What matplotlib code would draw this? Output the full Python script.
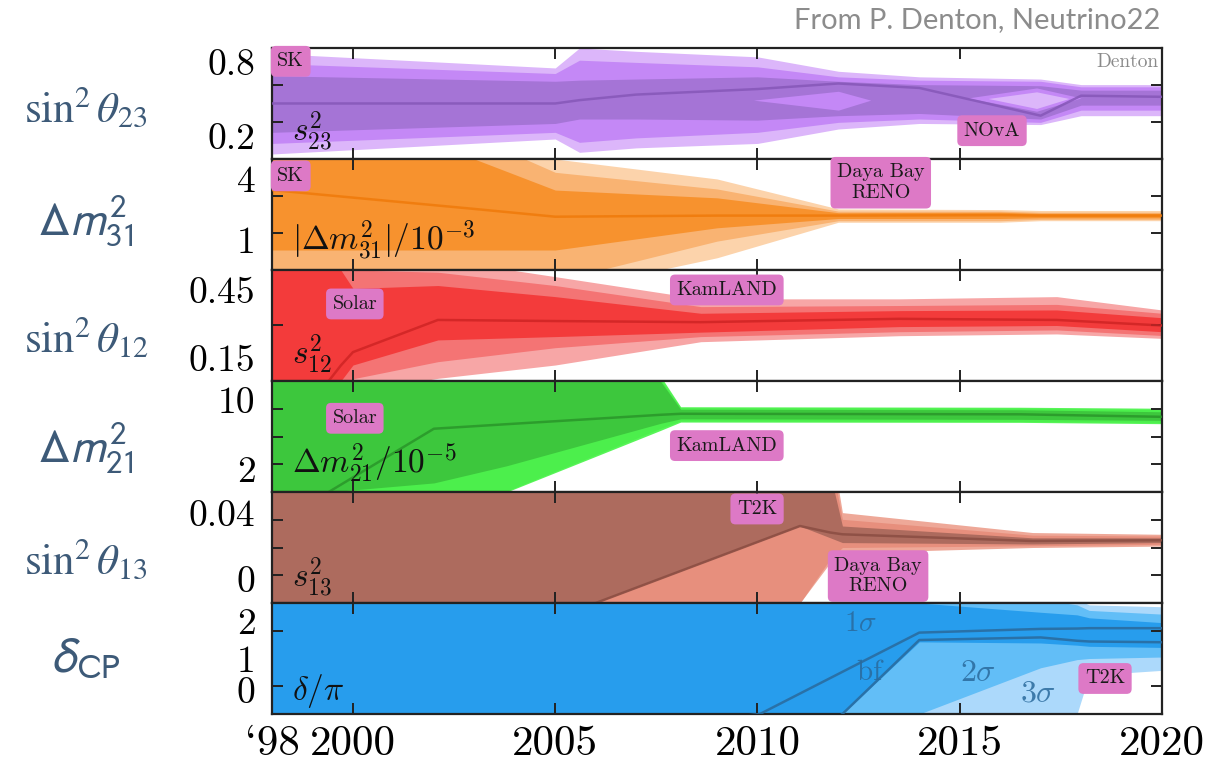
import numpy as np
import matplotlib.pyplot as plt
from matplotlib.ticker import FixedLocator

plt.rcParams['mathtext.fontset'] = 'cm'

# ---- sin^2 theta_23 ----
yr_23 = [1998, 2005, 2005.6, 2007, 2010, 2012, 2014, 2017, 2018, 2020]
hi3_23 = [0.95, 0.82, 1.00, 0.97, 0.92, 0.79, 0.74, 0.72, 0.67, 0.67]
hi2_23 = [0.86, 0.77, 0.89, 0.87, 0.83, 0.74, 0.71, 0.70, 0.65, 0.65]
hi1_23 = [0.75, 0.70, 0.71, 0.72, 0.74, 0.70, 0.67, 0.66, 0.62, 0.62]
bf_23 = [0.50, 0.50, 0.53, 0.58, 0.63, 0.68, 0.64, 0.39, 0.57, 0.56]
lo1_23 = [0.24, 0.32, 0.36, 0.36, 0.35, 0.39, 0.41, 0.36, 0.485, 0.485]
lo2_23 = [0.14, 0.24, 0.15, 0.19, 0.24, 0.33, 0.36, 0.33, 0.44, 0.44]
lo3_23 = [0.045, 0.18, 0.06, 0.10, 0.14, 0.27, 0.32, 0.31, 0.39, 0.39]
# octant holes
hole1_yr = [2009.9, 2012.0, 2012.8]
hole1_lo = [0.53, 0.44, 0.53]
hole1_hi = [0.53, 0.61, 0.53]
hole2_yr = [2015.2, 2016.9, 2018.0]
hole2_lo = [0.55, 0.43, 0.55]
hole2_hi = [0.55, 0.64, 0.55]
hole3_yr = [2015.7, 2016.9, 2017.7]
hole3_lo = [0.545, 0.455, 0.545]
hole3_hi = [0.545, 0.605, 0.545]

# ---- |dm^2_31| / 1e-3 ----
yr_31 = [1998, 2003, 2005, 2009, 2012, 2016, 2017, 2020]
hi3_31 = [7.0, 7.0, 5.0, 4.1, 2.75, 2.72, 2.68, 2.68]
hi2_31 = [7.0, 6.0, 4.4, 3.65, 2.65, 2.65, 2.6, 2.6]
hi1_31 = [6.0, 5.0, 3.6, 3.25, 2.58, 2.6, 2.55, 2.55]
bf_31 = [3.6, 2.75, 2.4, 2.45, 2.45, 2.47, 2.45, 2.45]
lo1_31 = [0.9, 0.9, 0.9, 1.9, 2.32, 2.32, 2.35, 2.35]
lo2_31 = [-1.0, -1.0, -0.5, 1.3, 2.22, 2.22, 2.28, 2.28]
lo3_31 = [-1.0, -1.0, -1.0, 0.55, 2.15, 2.15, 2.22, 2.22]

# ---- sin^2 theta_12 ----
yr_12 = [1998, 1999.4, 1999.7, 2000, 2002.1, 2005, 2008.6, 2013.5, 2017.4, 2020]
hi3_12 = [0.7, 0.7, 0.7, 0.6, 0.6, 0.52, 0.42, 0.42, 0.43, 0.37]
hi2_12 = [0.7, 0.7, 0.7, 0.55, 0.54, 0.48, 0.385, 0.39, 0.395, 0.355]
hi1_12 = [0.7, 0.7, 0.55, 0.467, 0.48, 0.43, 0.355, 0.367, 0.37, 0.335]
bf_12 = [-0.2, 0.05, 0.12, 0.18, 0.325, 0.32, 0.315, 0.33, 0.325, 0.30]
lo1_12 = [0.0, 0.0, 0.05, 0.122, 0.235, 0.25, 0.27, 0.295, 0.30, 0.272]
lo2_12 = [0.0, 0.0, 0.0, 0.06, 0.137, 0.2, 0.25, 0.272, 0.28, 0.255]
lo3_12 = [0.0, 0.0, 0.0, 0.0, 0.062, 0.122, 0.227, 0.254, 0.262, 0.242]

# ---- dm^2_21 / 1e-5 ----
yr_21 = [1998, 1999.4, 2002, 2003.8, 2007.6, 2008.1, 2016.5, 2020]
hi3_21 = [14, 14, 14, 14, 11.5, 8.45, 8.4, 8.3]
hi2_21 = [14, 14, 14, 14, 11.2, 8.35, 8.3, 8.15]
hi1_21 = [14, 14, 14, 14, 11.0, 8.2, 8.15, 7.95]
bf_21 = [-2.0, 0.0, 6.27, 6.72, 7.65, 7.75, 7.7, 7.45]
lo1_21 = [-1.0, 0.0, 0.9, 2.6, 6.8, 7.25, 7.2, 7.1]
lo2_21 = [-1.0, -1.0, -0.5, 0.1, 6.3, 7.05, 7.0, 6.9]
lo3_21 = [-1.0, -1.0, -1.0, 0.0, 6.1, 6.93, 6.9, 6.77]

# ---- sin^2 theta_13 ----
yr_13 = [1998, 2006.0, 2011.05, 2011.8, 2012.1, 2016.8, 2020]
hi3_13 = [0.08, 0.08, 0.08, 0.08, 0.0383, 0.027, 0.026]
hi2_13 = [0.08, 0.08, 0.08, 0.07, 0.0345, 0.0255, 0.025]
hi1_13 = [0.08, 0.08, 0.08, 0.06, 0.0307, 0.024, 0.024]
bf_13 = [-0.04, -0.013, 0.0307, 0.027, 0.026, 0.0222, 0.0226]
lo1_13 = [-0.04, -0.013, 0.0307, 0.024, 0.0213, 0.0205, 0.0213]
lo2_13 = [-0.05, -0.05, -0.013, 0.012, 0.0185, 0.0195, 0.0203]
lo3_13 = [-0.05, -0.05, -0.013, 0.010, 0.0155, 0.0185, 0.0193]

# ---- delta_CP / pi ----
yr_cp = [1998, 2010.06, 2012.1, 2014.0, 2017.0, 2017.9, 2018.2, 2020]
hi3_cp = [3, 3, 3, 3, 3, 2.6, 2.45, 2.4]
hi2_cp = [3, 3, 3, 3, 2.6, 2.45, 2.3, 2.2]
hi1_cp = [3, 3, 3, 2.5, 2.25, 2.18, 2.1, 1.97]
bf_cp = [-2, -0.5, 0.64, 1.7, 1.8, 1.81, 1.82, 1.82]
bf2_cp = [-3, -2, -0.5, 1.5, 1.57, 1.48, 1.46, 1.44]
lo1_cp = [-3, -3, -0.5, 1.45, 1.42, 1.36, 1.33, 1.3]
lo2_cp = [-3, -3, -3, -0.5, 0.75, 0.97, 1.0, 1.04]
lo3_cp = [-3, -3, -3, -3, -3, -0.5, 0.55, 0.68]

year_ticks = [1998, 2000, 2005, 2010, 2015, 2020]
year_labels = ['`98', '2000', '2005', '2010', '2015', '2020']

pink = '#dd79c6'
navy = '#3d5a78'

panels = [
    dict(yr=yr_23, bands=(lo3_23, lo2_23, lo1_23, hi1_23, hi2_23, hi3_23), bf=bf_23,
         ylim=(0, 1), cols=('#dcb6fa', '#c488f6', '#a574d6'), line='#8657b8',
         minor=[1 / 3, 2 / 3], lab_pos=[0.873, 0.209], labs=['0.8', '0.2'],
         name=r'$s^2_{23}$', name_y=0.24,
         side=r'$\sin^2\theta_{23}$', side_y=0.45, side_font='stix', side_fs=31),
    dict(yr=yr_31, bands=(lo3_31, lo2_31, lo1_31, hi1_31, hi2_31, hi3_31), bf=bf_31,
         ylim=(0, 5), cols=('#fcd3ab', '#f9b372', '#f7922e'), line='#ef7a0a',
         minor=[1 / 3, 2 / 3], lab_pos=[0.82, 0.268], labs=['4', '1'],
         name=r'$|\Delta m^2_{31}|/10^{-3}$', name_y=0.27,
         side=r'$\Delta m^2_{31}$', side_y=0.45, side_font='stixsans', side_fs=34),
    dict(yr=yr_12, bands=(lo3_12, lo2_12, lo1_12, hi1_12, hi2_12, hi3_12), bf=bf_12,
         ylim=(0.05, 0.55), cols=('#f7a6a6', '#f47474', '#f33b3b'), line='#cf2424',
         minor=[0.5], lab_pos=[0.82, 0.207], labs=['0.45', '0.15'],
         name=r'$s^2_{12}$', name_y=0.24,
         side=r'$\sin^2\theta_{12}$', side_y=0.38, side_font='stix', side_fs=31),
    dict(yr=yr_21, bands=(lo3_21, lo2_21, lo1_21, hi1_21, hi2_21, hi3_21), bf=bf_21,
         ylim=(0, 11), cols=('#58f558', '#4cef4c', '#3dc73d'), line='#2a962a',
         minor=[0.25, 0.5, 0.75], lab_pos=[0.827, 0.209], labs=['10', '2'],
         name=r'$\Delta m^2_{21}/10^{-5}$', name_y=0.26,
         side=r'$\Delta m^2_{21}$', side_y=0.40, side_font='stixsans', side_fs=34),
    dict(yr=yr_13, bands=(lo3_13, lo2_13, lo1_13, hi1_13, hi2_13, hi3_13), bf=bf_13,
         ylim=(-0.013, 0.05), cols=('#eea898', '#e78f7d', '#ad6b5e'), line='#8a4d42',
         minor=[0.25, 0.5, 0.75], lab_pos=[0.81, 0.216], labs=['0.04', '0'],
         name=r'$s^2_{13}$', name_y=0.23,
         side=r'$\sin^2\theta_{13}$', side_y=0.38, side_font='stix', side_fs=31),
    dict(yr=yr_cp, bands=(lo3_cp, lo2_cp, lo1_cp, hi1_cp, hi2_cp, hi3_cp), bf=bf_cp,
         ylim=(-0.5, 2.5), cols=('#acd9fb', '#62bef7', '#279ded'), line='#2a6a9c',
         minor=[0.25, 0.5, 0.75], lab_pos=[0.84, 0.5, 0.214], labs=['2', '1', '0'],
         name=r'$\delta/\pi$', name_y=0.21,
         side=r'$\delta_{\mathrm{CP}}$', side_y=0.5, side_font='stixsans', side_fs=36),
]

fig, axes = plt.subplots(6, 1, sharex=True, figsize=(12.07, 7.70), dpi=100,
                         gridspec_kw=dict(hspace=0))
fig.subplots_adjust(left=0.2254, right=0.9627, top=0.9377, bottom=0.0727)


def box(ax, x, y, s, ha='center'):
    ax.text(x, y, s, transform=ax.transAxes, ha=ha, va='center', fontsize=14.5,
            fontfamily='cmr10', color='#1a1a1a', multialignment='center', zorder=6,
            bbox=dict(boxstyle='round,pad=0.32,rounding_size=0.25', fc=pink, ec='none'))


for ax, p in zip(axes, panels):
    lo3, lo2, lo1, hi1, hi2, hi3 = p['bands']
    c3, c2, c1 = p['cols']
    ax.fill_between(p['yr'], lo3, hi3, color=c3, lw=0)
    ax.fill_between(p['yr'], lo2, hi2, color=c2, lw=0)
    ax.fill_between(p['yr'], lo1, hi1, color=c1, lw=0)
    ax.plot(p['yr'], p['bf'], color=p['line'], lw=1.8, alpha=0.85, zorder=3)

    y0, y1 = p['ylim']
    ax.set_ylim(y0, y1)
    ax.set_xlim(1998, 2020)
    span = y1 - y0
    ax.set_yticks([y0 + f * span for f in p['lab_pos']], labels=p['labs'])
    ax.yaxis.set_minor_locator(FixedLocator([y0 + f * span for f in p['minor']]))
    ax.tick_params(axis='y', which='major', length=0, pad=12,
                   labelsize=27, labelfontfamily='cmr10')
    ax.tick_params(axis='y', which='minor', direction='in', length=8, width=1.4,
                   left=True, right=True, color='#222222')
    ax.tick_params(axis='x', which='major', direction='in', length=8, width=1.4,
                   top=True, bottom=True, color='#222222')
    for sp in ax.spines.values():
        sp.set_linewidth(1.6)
        sp.set_color('#222222')

    ax.text(0.0225, p['name_y'], p['name'], transform=ax.transAxes,
            fontsize=24, va='center', ha='left', color='#111111', zorder=5)
    ax.text(-0.209, p['side_y'], p['side'], transform=ax.transAxes,
            fontsize=p['side_fs'], va='center', ha='center', color=navy,
            math_fontfamily=p['side_font'])

# extra structure in the theta_23 panel
ax = axes[0]
ax.fill_between(hole2_yr, hole2_lo, hole2_hi, color=panels[0]['cols'][1], lw=0, zorder=2)
ax.fill_between(hole1_yr, hole1_lo, hole1_hi, color=panels[0]['cols'][1], lw=0, zorder=2)
ax.fill_between(hole3_yr, hole3_lo, hole3_hi, color=panels[0]['cols'][0], lw=0, zorder=2)
ax.text(0.996, 0.873, 'Denton', transform=ax.transAxes, ha='right', va='center',
        fontsize=14, fontfamily='cmr10', color='#8a8a8a')

# second best-fit curve in the delta panel
axes[5].plot(yr_cp, bf2_cp, color=panels[5]['line'], lw=1.8, alpha=0.85, zorder=3)
for s, x, y, fs in [(r'$1\sigma$', 0.661, 0.82, 21), (r'$\mathrm{bf}$', 0.672, 0.375, 21),
                    (r'$2\sigma$', 0.793, 0.375, 23), (r'$3\sigma$', 0.861, 0.19, 23)]:
    axes[5].text(x, y, s, transform=axes[5].transAxes, ha='center', va='center',
                 fontsize=fs, color='#2a6a9c', alpha=0.85, zorder=5)

box(axes[0], 0.021, 0.88, 'SK')
box(axes[0], 0.809, 0.255, 'NOvA')
box(axes[1], 0.021, 0.848, 'SK')
box(axes[1], 0.684, 0.786, 'Daya Bay\nRENO')
box(axes[2], 0.093, 0.694, 'Solar')
box(axes[2], 0.511, 0.82, 'KamLAND')
box(axes[3], 0.093, 0.664, 'Solar')
box(axes[3], 0.511, 0.418, 'KamLAND')
box(axes[4], 0.545, 0.847, 'T2K')
box(axes[4], 0.681, 0.243, 'Daya Bay\nRENO')
box(axes[5], 0.936, 0.32, 'T2K')

axes[-1].set_xticks(year_ticks, labels=year_labels)
axes[-1].tick_params(axis='x', labelsize=31, labelfontfamily='cmr10', pad=8)

fig.text(0.961, 0.974, 'From P. Denton, Neutrino22', ha='right', va='center',
         fontsize=21, fontfamily='Lato', color='#8c8c8c')

fig.savefig('out.png', dpi=100, facecolor='white')
